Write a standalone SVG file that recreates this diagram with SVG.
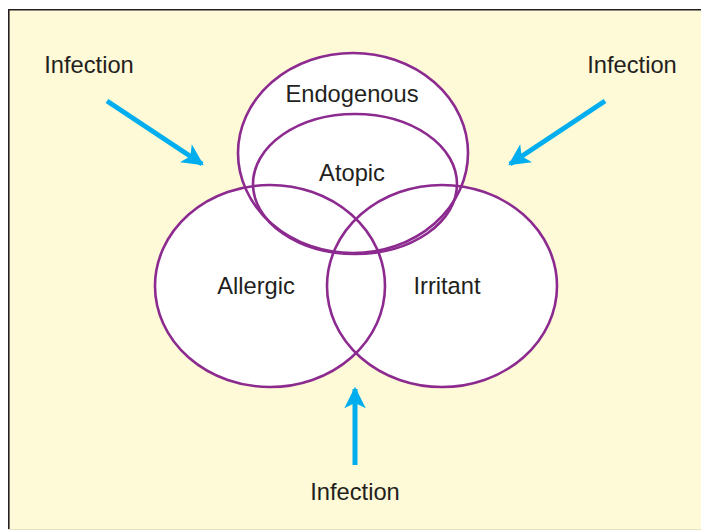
<svg xmlns="http://www.w3.org/2000/svg" width="701" height="531" viewBox="0 0 701 531">
<defs>
<style>
.bg{fill:#fef9d6;stroke:none}
.edge{stroke:#231f20;stroke-width:1.6;fill:none}
.fillw{fill:#ffffff;stroke:none}
.ring{fill:none;stroke:#8c2a8f;stroke-width:2.6}
.lbl{font-family:"Liberation Sans",Arial,sans-serif;font-size:23.7px;fill:#231f20}
.arr{stroke:#00aeef;stroke-width:5;fill:none;marker-end:url(#ah)}
</style>
<marker id="ah" viewBox="0 0 10 10" refX="9" refY="5" markerWidth="5" markerHeight="4.3" orient="auto" markerUnits="strokeWidth">
<path d="M0,0 L10,5 L0,10 L2.5,5 Z" fill="#00aeef"/>
</marker>
</defs>
<rect class="bg" x="8" y="9" width="693" height="520"/>
<path class="edge" d="M8.8,530 V9.8 H701"/>
<line x1="8" y1="529.5" x2="701" y2="529.5" stroke="#e6e2c8" stroke-width="1"/>
<g id="fills">
<ellipse class="fillw" cx="353" cy="153" rx="115" ry="100"/>
<ellipse class="fillw" cx="270" cy="286" rx="115" ry="101"/>
<ellipse class="fillw" cx="442" cy="286" rx="115" ry="101"/>
</g>
<g id="endogenous">
<ellipse class="ring" cx="353" cy="153" rx="115" ry="100"/>
<text class="lbl" x="352" y="102" text-anchor="middle">Endogenous</text>
</g>
<g id="atopic">
<ellipse class="ring" cx="355" cy="184" rx="102" ry="70"/>
<text class="lbl" x="352" y="181" text-anchor="middle">Atopic</text>
</g>
<g id="allergic">
<ellipse class="ring" cx="270" cy="286" rx="115" ry="101"/>
<text class="lbl" x="256" y="294" text-anchor="middle">Allergic</text>
</g>
<g id="irritant">
<ellipse class="ring" cx="442" cy="286" rx="115" ry="101"/>
<text class="lbl" x="447" y="294" text-anchor="middle">Irritant</text>
</g>
<g id="infection-left">
<text class="lbl" x="89" y="73" text-anchor="middle">Infection</text>
</g>
<g id="infection-right">
<text class="lbl" x="632" y="73" text-anchor="middle">Infection</text>
</g>
<g id="infection-bottom">
<text class="lbl" x="355" y="500" text-anchor="middle">Infection</text>
</g>
<g id="connectors">
<line class="arr" x1="107" y1="101" x2="202" y2="164"/>
<line class="arr" x1="605" y1="101" x2="510" y2="164"/>
<line class="arr" x1="355" y1="465" x2="355" y2="389"/>
</g>
</svg>
